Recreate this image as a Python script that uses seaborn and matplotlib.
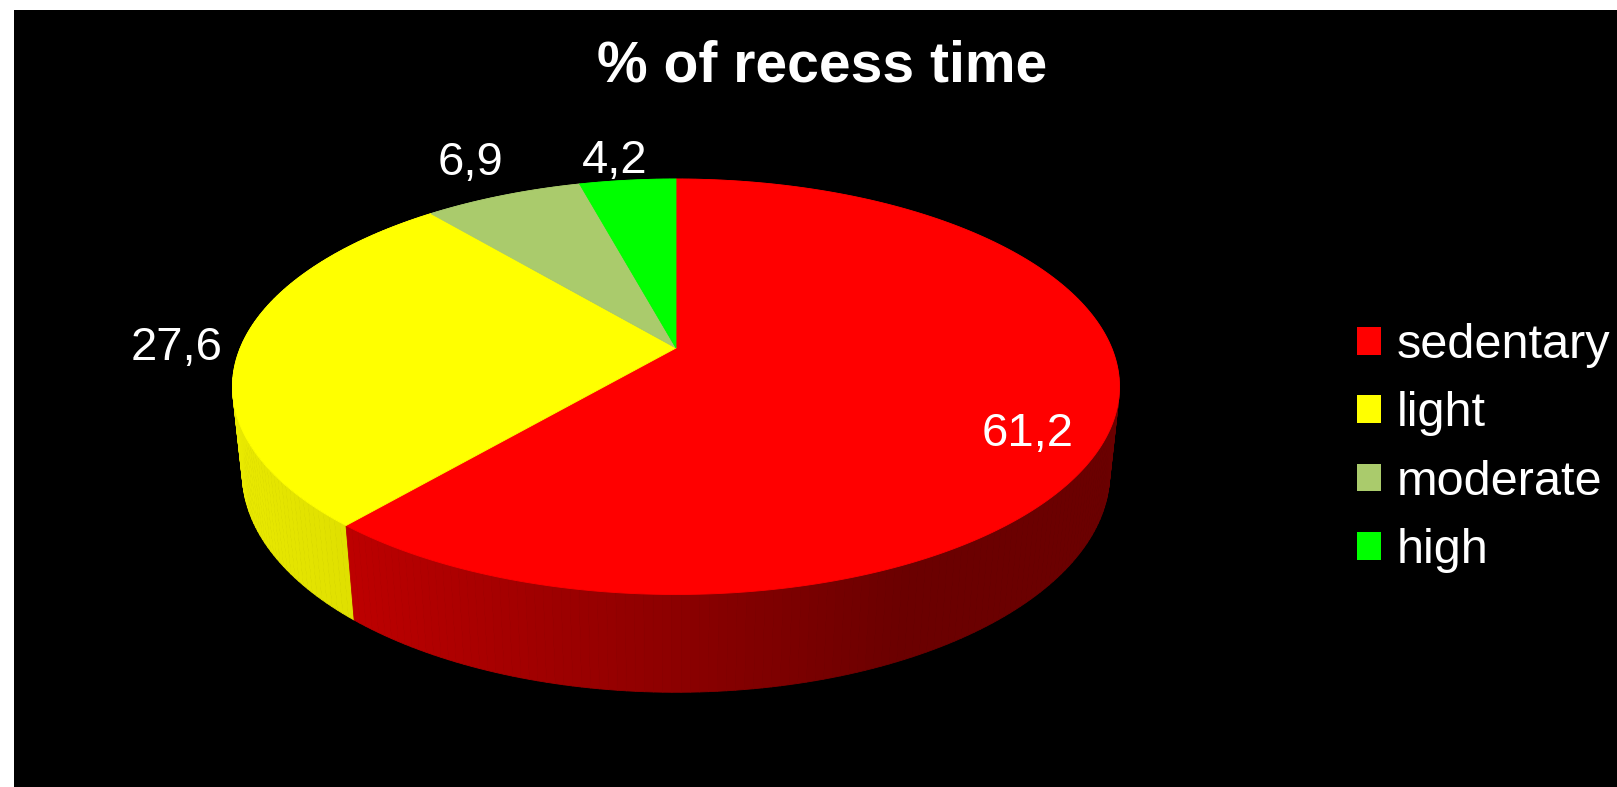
import numpy as np
import matplotlib
matplotlib.use("Agg")
import matplotlib.pyplot as plt
import seaborn as sns
from matplotlib.patches import Polygon, Patch
from matplotlib.collections import PolyCollection

# ---------------- data ----------------
categories = ["sedentary", "light", "moderate", "high"]
values = [61.2, 27.6, 6.9, 4.2]
value_labels = ["61,2", "27,6", "6,9", "4,2"]
title_text = "% of recess time"
slice_colors = ["#FF0000", "#FFFF00", "#AACB6C", "#00FF00"]

# ---------------- style ----------------
sns.set_theme(style="dark")
plt.rcParams["font.family"] = ["Liberation Sans", "DejaVu Sans"]

W, H = 1617, 787
fig = plt.figure(figsize=(W / 100, H / 100), dpi=100, facecolor="white")
ax = fig.add_axes([14 / W, 0, 1 - 14 / W, 1 - 10 / H])
ax.set_facecolor("black")
ax.set_xlim(14, W)
ax.set_ylim(H, 10)
ax.set_xticks([])
ax.set_yticks([])
for sp in ax.spines.values():
    sp.set_visible(False)
ax.grid(False)

palette = sns.color_palette(slice_colors)

# ---------------- 3D perspective projection ----------------
elev = np.radians(27.4)
ce, se = np.cos(elev), np.sin(elev)
Dcam = 4.76     # camera distance (in pie radii)
Fcam = 2074.0   # focal length in pixels
depth_h = 0.225  # pie thickness (in pie radii)
cx, cy = 676.0, 348.0  # screen position of pie apex


def project(X, Y, Z):
    d = Dcam + Y * ce - Z * se
    xs = Fcam * X / d
    ys = Fcam * (Y * se + Z * ce) / d
    return cx + xs, cy - ys


# angles measured clockwise from 12 o'clock
vals = np.array(values, dtype=float)
fr = vals / vals.sum()
bounds = np.concatenate([[0], np.cumsum(fr)]) * 2 * np.pi

# ---- side walls ----
polys, cols, depths = [], [], []
for i in range(len(vals)):
    a0, a1 = bounds[i], bounds[i + 1]
    n = max(int((a1 - a0) / np.radians(1.0)), 2)
    th = np.linspace(a0, a1, n + 1)
    base = np.array(palette[i])
    for k in range(n):
        t0, t1 = th[k], th[k + 1]
        X0, Y0 = np.sin(t0), np.cos(t0)
        X1, Y1 = np.sin(t1), np.cos(t1)
        p = [project(X0, Y0, 0), project(X1, Y1, 0),
             project(X1, Y1, -depth_h), project(X0, Y0, -depth_h)]
        xm = 0.5 * (X0 + X1)
        f = np.clip(0.55 - 0.30 * xm, 0.42, 0.88)
        if i == 1:
            f = np.clip(0.80 - 0.12 * xm, 0.7, 0.92)
        c = np.clip(base * f, 0, 1)
        polys.append(p)
        cols.append(c)
        depths.append(0.5 * (Y0 + Y1))

order = np.argsort(depths)[::-1]
pc = PolyCollection([polys[j] for j in order],
                    facecolors=[cols[j] for j in order],
                    edgecolors=[cols[j] for j in order],
                    linewidths=0.6, antialiased=True, zorder=2)
ax.add_collection(pc)

# ---- top faces ----
for i in range(len(vals)):
    a0, a1 = bounds[i], bounds[i + 1]
    th = np.linspace(a0, a1, 300)
    pts = [project(0, 0, 0)] + [project(np.sin(t), np.cos(t), 0) for t in th]
    ax.add_patch(Polygon(pts, closed=True, facecolor=palette[i],
                         edgecolor=palette[i], linewidth=0.6, zorder=3))

# ---------------- value labels ----------------
label_pos = [(1028, 434), (177, 348), (470, 163), (615, 161)]
for txt, (x, y) in zip(value_labels, label_pos):
    ax.text(x, y, txt, color="white", fontsize=34, ha="center", va="center",
            zorder=5)

# ---------------- title ----------------
ax.text(822, 66, title_text, color="white", fontsize=41, fontweight="bold",
        ha="center", va="center", zorder=5)

# ---------------- legend ----------------
handles = [Patch(facecolor=palette[i], edgecolor="none") for i in range(len(vals))]
leg = ax.legend(handles, categories, loc="center left",
                bbox_to_anchor=(1357 / W, 1 - 448 / H),
                bbox_transform=fig.transFigure,
                frameon=False, fontsize=35, handlelength=0.5,
                handleheight=0.5, handletextpad=0.32, labelspacing=0.48,
                borderaxespad=0, borderpad=0)
for t in leg.get_texts():
    t.set_color("white")

fig.savefig("out.png", dpi=100, facecolor=fig.get_facecolor())
